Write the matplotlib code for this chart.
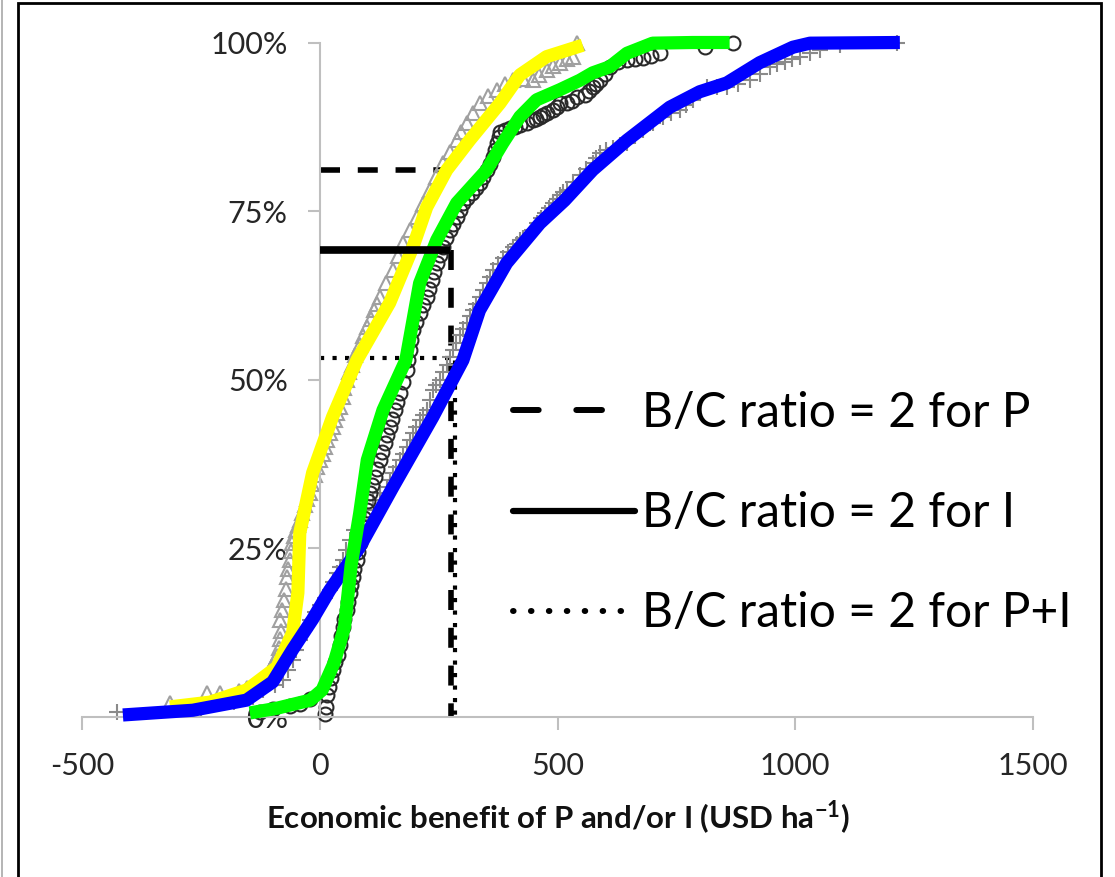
import matplotlib
matplotlib.use("Agg")
import matplotlib.pyplot as plt
from matplotlib.lines import Line2D
from matplotlib.patches import Rectangle

plt.rcParams["font.family"] = ["Lato", "DejaVu Sans"]
plt.rcParams["axes.unicode_minus"] = False
plt.rcParams["mathtext.fontset"] = "custom"
plt.rcParams["mathtext.rm"] = "Lato"
plt.rcParams["mathtext.bf"] = "Lato:bold"

# observed cumulative probability (%) vs economic benefit (USD/ha)
# P only (triangles)
tri_x = [-315, -238, -210, -170, -154, -135, -122, -111, -105, -101, -95, -90, -86, -84, -82,
         -84, -80, -76, -72, -69, -66, -63, -61, -59, -54, -50, -46, -42, -37, -32, -26, -21,
         -16, -11, -5, 0, 6, 11, 16, 21, 27, 32, 37, 42, 48, 52, 57, 62, 67, 75, 84, 92, 99,
         107, 114, 120, 126, 140, 154, 165, 175, 190, 204, 218, 231, 245, 259, 274, 288, 298,
         309, 322, 336, 354, 372, 390, 406, 427, 448, 462, 477, 491, 505, 519, 532, 540]
tri_y = [2.1, 3.6, 3.6, 3.9, 4.3, 4.8, 5.4, 6.2, 6.9, 7.6, 8.4, 9.0, 10.2, 11.5, 12.8, 14.4,
         15.8, 17.3, 19.0, 20.8, 22.0, 23.3, 24.6, 25.8, 26.8, 27.7, 28.5, 29.2, 30.3, 31.4,
         32.3, 33.2, 34.6, 35.9, 37.0, 38.1, 39.0, 40.0, 41.0, 42.1, 43.0, 44.0, 45.0, 46.0,
         47.5, 48.8, 50.0, 51.1, 52.2, 53.7, 55.2, 56.5, 57.8, 59.0, 60.3, 61.3, 62.3, 64.3,
         66.3, 68.3, 70.3, 72.2, 74.1, 76.1, 78.1, 80.1, 82.1, 83.8, 85.5, 86.8, 88.1, 89.5,
         91.0, 92.0, 93.0, 93.8, 94.4, 94.6, 94.4, 95.2, 95.9, 96.5, 97.0, 97.5, 97.9, 100]

# I only (circles)
circ_x = [-126, -99, -63, -42, -20, 10, 14, 16, 20, 24, 27, 33, 38, 42, 45, 48, 52, 57, 60, 63,
          66, 69, 73, 78, 81, 84, 87, 90, 94, 99, 102, 105, 110, 116, 121, 126, 131, 137, 142,
          147, 152, 158, 163, 168, 175, 183, 186, 189, 192, 196, 203, 210, 218, 225, 230, 236,
          241, 246, 252, 259, 266, 273, 280, 288, 294, 301, 310, 320, 328, 336, 343, 351, 358,
          364, 368, 372, 376, 379, 390, 400, 410, 421, 435, 448, 455, 463, 470, 477, 490, 498,
          505, 519, 530, 540, 557, 566, 574, 582, 589, 600, 610, 627, 646, 662, 679, 697, 715,
          810, 869]
circ_y = [0.8, 1.2, 1.6, 2.0, 2.6, 0.4, 1.5, 3.2, 4.5, 5.8, 7.0, 8.1, 9.2, 10.7, 12.0, 13.3,
          14.6, 15.9, 17.1, 18.4, 19.6, 20.8, 22.0, 23.3, 24.5, 25.8, 27.0, 28.2, 29.5, 30.7,
          32.0, 33.2, 34.4, 35.6, 36.8, 38.1, 39.3, 40.6, 41.8, 43.0, 44.2, 45.5, 46.7, 48.0,
          49.7, 51.4, 52.9, 54.4, 55.9, 57.4, 58.6, 59.9, 61.1, 62.3, 63.5, 64.8, 66.0, 67.3,
          68.5, 69.7, 71.0, 72.2, 73.1, 74.1, 75.1, 76.2, 77.0, 77.7, 78.5, 79.2, 80.1, 81.1,
          82.0, 83.0, 84.0, 85.1, 86.0, 86.8, 87.0, 87.3, 87.5, 87.8, 88.1, 88.5, 88.7, 89.0,
          89.2, 89.5, 90.0, 90.5, 91.0, 91.0, 91.4, 91.9, 92.2, 92.8, 93.4, 93.9, 94.4, 95.4,
          96.4, 97.1, 97.4, 97.6, 97.7, 98.0, 98.4, 99.3, 100]

# P+I (pluses)
plus_x = [-427, -250, -180, -140, -120, -95, -78, -66, -57, -50, -42, -32, -21, -10, 0, 10,
          21, 28, 36, 42, 48, 55, 63, 73, 84, 97, 111, 126, 141, 148, 154, 161, 168, 176, 183,
          190, 196, 203, 210, 218, 225, 232, 238, 245, 252, 260, 267, 274, 280, 287, 294, 302,
          309, 316, 322, 329, 336, 344, 351, 358, 364, 375, 385, 396, 406, 414, 421, 428, 435,
          446, 456, 465, 473, 482, 490, 498, 505, 512, 519, 533, 547, 560, 574, 582, 589, 603,
          616, 631, 646, 663, 679, 700, 721, 739, 757, 770, 784, 799, 814, 835, 856, 880, 904,
          925, 946, 962, 978, 994, 1009, 1030, 1051, 1094, 1213]
plus_y = [0.7, 1.2, 2.2, 3.0, 4.0, 4.8, 5.5, 7.0, 8.5, 10.0, 11.4, 12.9, 14.4, 15.5, 16.6,
          17.7, 18.8, 20.0, 21.3, 22.3, 23.3, 24.7, 26.2, 27.7, 29.2, 30.7, 32.2, 33.2, 34.1,
          35.1, 36.2, 37.1, 38.1, 39.0, 40.0, 41.0, 42.1, 43.0, 44.0, 44.7, 45.5, 47.0, 48.5,
          49.2, 50.0, 51.1, 52.2, 53.3, 54.4, 55.5, 56.6, 57.5, 58.4, 59.4, 60.3, 61.3, 62.3,
          63.3, 64.3, 65.3, 66.3, 67.2, 68.1, 68.9, 69.7, 70.2, 70.7, 71.0, 71.2, 72.2, 73.2,
          74.0, 74.7, 75.5, 76.2, 76.8, 77.4, 77.8, 78.1, 79.3, 80.4, 81.3, 82.1, 82.9, 83.6,
          84.0, 84.4, 84.8, 85.1, 86.1, 87.0, 88.0, 89.0, 89.5, 90.0, 90.8, 91.5, 92.5, 93.4,
          93.4, 93.4, 93.9, 94.4, 95.4, 96.4, 96.8, 97.1, 97.5, 97.9, 98.4, 98.9, 99.6, 100]

# fitted distributions
yellow_x = [-315, -231, -154, -90, -57, -46, -42, -15, 27, 78, 147, 196, 225, 267, 315, 379,
            421, 477, 553]
yellow_y = [1.5, 2.2, 4.0, 7.4, 12.5, 18.4, 27.3, 36.2, 44.5, 52.9, 61.4, 69.7, 75.6, 81.1,
            85.5, 91.0, 95.2, 97.9, 99.6]

green_x = [-147, -90, -20, 5, 30, 52, 66, 84, 100, 133, 181, 210, 246, 288, 351, 385, 421,
           456, 505, 547, 574, 610, 646, 700, 784, 862]
green_y = [0.6, 1.3, 2.5, 4.0, 8.0, 13.3, 22.5, 30.2, 38.1, 45.5, 52.9, 64.3, 70.7, 76.2,
           81.1, 85.1, 89.0, 91.5, 93.0, 94.4, 95.5, 96.4, 98.4, 99.9, 100, 100]

blue_x = [-414, -267, -154, -99, -57, -15, 21, 84, 154, 238, 301, 336, 393, 463, 515, 574,
          646, 736, 799, 856, 925, 995, 1031, 1220]
blue_y = [0.3, 1.0, 2.5, 5.2, 10.0, 14.5, 18.8, 25.2, 34.1, 44.5, 52.9, 60.3, 67.3, 73.2,
          76.6, 81.1, 85.5, 90.4, 92.7, 94.0, 97.0, 99.3, 99.9, 100]

# benefit where B/C ratio = 2 and its cumulative probability
bc2_labels = ["B/C ratio = 2 for P", "B/C ratio = 2 for I", "B/C ratio = 2 for P+I"]
bc2_benefit = [275, 273, 284]
bc2_prob = [81.1, 69.2, 53.2]

fig = plt.figure(figsize=(11.15, 8.77), dpi=100)
ax = fig.add_axes([82 / 1115, 160 / 877, 951 / 1115, 674.5 / 877])

ax.plot(plus_x, plus_y, ls="none", marker="+", ms=11, mew=1.5, color="#8a8a8a",
        clip_on=False, zorder=2.0)
ax.plot(tri_x, tri_y, ls="none", marker="^", ms=10.5, mew=1.5, mfc="none", mec="#a0a0a0",
        clip_on=False, zorder=2.1)
ax.plot(circ_x, circ_y, ls="none", marker="o", ms=10, mew=1.5, mfc="none", mec="#2a2a2a",
        clip_on=False, zorder=2.2)

# B/C = 2 guide lines
ax.plot([0, bc2_benefit[0]], [bc2_prob[0], bc2_prob[0]], color="k",
        lw=4, ls=(0, (3.6, 3.2)), zorder=1.9)
ax.plot([bc2_benefit[0], bc2_benefit[0]], [bc2_prob[1], 0], color="k",
        lw=4, ls=(0, (3.6, 3.2)), zorder=1.9)
ax.plot([0, bc2_benefit[2], bc2_benefit[2]], [bc2_prob[2], bc2_prob[2], 0], color="k",
        lw=3, ls=(0, (1, 2)), zorder=1.9)
ax.plot([0, bc2_benefit[1]], [bc2_prob[1], bc2_prob[1]], color="k", lw=5.5,
        solid_capstyle="butt", zorder=5)

ax.plot(yellow_x, yellow_y, color="#ffff00", lw=9.5, solid_capstyle="butt",
        solid_joinstyle="round", clip_on=False, zorder=3.0)
ax.plot(blue_x, blue_y, color="#0000ff", lw=9.5, solid_capstyle="butt",
        solid_joinstyle="round", clip_on=False, zorder=3.1)
ax.plot(green_x, green_y, color="#00ff00", lw=9.5, solid_capstyle="butt",
        solid_joinstyle="round", clip_on=False, zorder=3.2)

ax.set_xlim(-500, 1500)
ax.set_ylim(0, 100)
ax.set_xticks([-500, 0, 500, 1000, 1500])
ax.set_yticks([0, 25, 50, 75, 100])
ax.set_yticklabels(["0%", "25%", "50%", "75%", "100%"])

for s in ["top", "right"]:
    ax.spines[s].set_visible(False)
ax.spines["left"].set_position(("data", 0))
for s in ["left", "bottom"]:
    ax.spines[s].set_color("#bfbfbf")
    ax.spines[s].set_linewidth(1.5)
ax.tick_params(axis="both", direction="out", length=9, width=1.5, color="#bfbfbf",
               labelsize=22, labelcolor="#262626")
ax.tick_params(axis="y", pad=14)
ax.tick_params(axis="x", pad=16)

ax.set_xlabel(r"Economic benefit of P and/or I (USD ha$^{\mathbf{-1}}$)", fontsize=22.5,
              fontweight="bold", labelpad=14, color="#111111")

handles = [
    Line2D([], [], color="k", lw=4.3, ls=(0, (4.3, 6.3)), dash_capstyle="round"),
    Line2D([], [], color="k", lw=4.5, solid_capstyle="round"),
    Line2D([], [], color="k", lw=4.3, ls=(0, (0.1, 2.9)), dash_capstyle="round"),
]
ax.legend(handles, bc2_labels, loc="center left", bbox_to_anchor=(0.453, 0.302),
          frameon=False, fontsize=34.5, handlelength=2.54, handletextpad=0.15,
          labelspacing=1.17, borderpad=0, borderaxespad=0)

# outer frame
fig.add_artist(Rectangle((18 / 1115, -0.05), (1101 - 18) / 1115, (874 / 877) + 0.05,
                         transform=fig.transFigure, fill=False, ec="black", lw=2))
fig.add_artist(Line2D([1.5 / 1115, 1.5 / 1115], [0, 1], transform=fig.transFigure,
                      color="#a8a8a8", lw=1.2))

fig.savefig("out.png", dpi=100)
